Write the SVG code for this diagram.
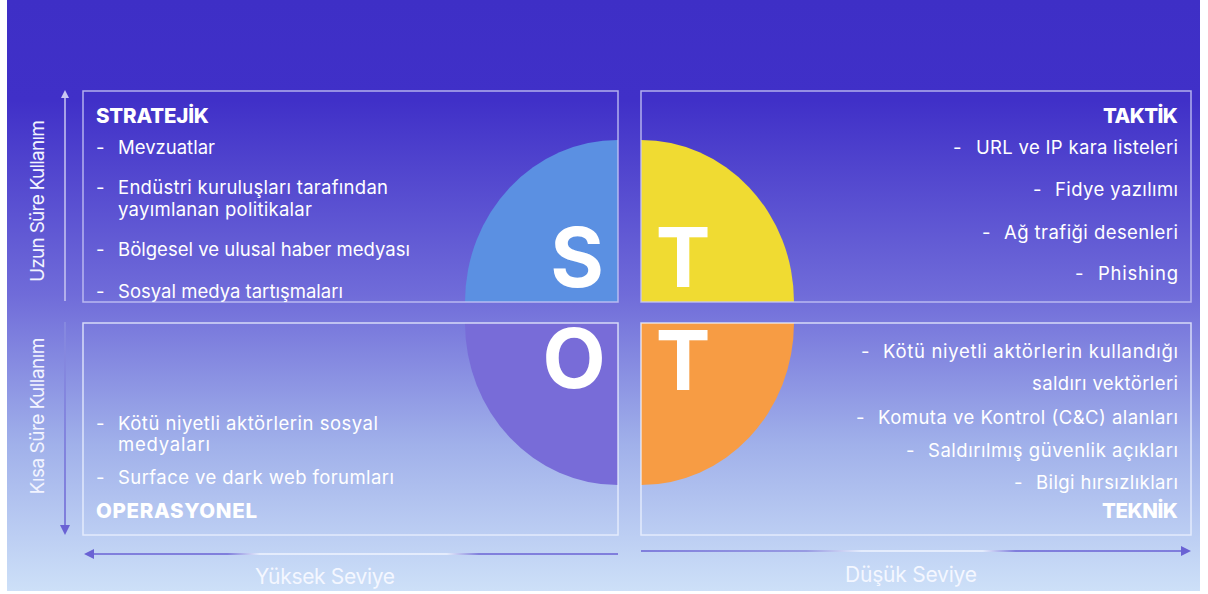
<svg xmlns="http://www.w3.org/2000/svg" width="1208" height="594" viewBox="0 0 1208 594">
<defs>
<linearGradient id="bg" x1="0" y1="0" x2="0" y2="1">
<stop offset="0" stop-color="#3E2FC6"/>
<stop offset="0.17" stop-color="#4030C8"/>
<stop offset="0.5" stop-color="#706CD9"/>
<stop offset="0.75" stop-color="#A0B0EA"/>
<stop offset="1" stop-color="#CDE0F8"/>
</linearGradient>
<linearGradient id="hl" x1="83" y1="0" x2="618" y2="0" gradientUnits="userSpaceOnUse">
<stop offset="0" stop-color="#6A62D4"/>
<stop offset="0.27" stop-color="#6A62D4"/>
<stop offset="0.33" stop-color="#F0F4FF"/>
<stop offset="0.68" stop-color="#F0F4FF"/>
<stop offset="0.74" stop-color="#6A62D4"/>
<stop offset="1" stop-color="#6A62D4"/>
</linearGradient>
<linearGradient id="hr" x1="641" y1="0" x2="1192" y2="0" gradientUnits="userSpaceOnUse">
<stop offset="0" stop-color="#6A62D4"/>
<stop offset="0.3" stop-color="#8A88DC"/>
<stop offset="0.4" stop-color="#F0F4FF"/>
<stop offset="0.62" stop-color="#F0F4FF"/>
<stop offset="0.68" stop-color="#6A62D4"/>
<stop offset="1" stop-color="#6A62D4"/>
</linearGradient>
<linearGradient id="vd" x1="0" y1="322" x2="0" y2="535" gradientUnits="userSpaceOnUse">
<stop offset="0" stop-color="#8A8EE0"/>
<stop offset="1" stop-color="#6A62D4"/>
</linearGradient>
<marker id="headUp" viewBox="0 0 10 10" refX="5" refY="5" markerWidth="8" markerHeight="8" orient="auto" markerUnits="userSpaceOnUse">
<path d="M0,0 L10,5 L0,10 z" fill="#C9C6F2"/>
</marker>
<marker id="headP" viewBox="0 0 10 10" refX="5" refY="5" markerWidth="10" markerHeight="10" orient="auto" markerUnits="userSpaceOnUse">
<path d="M0,0 L10,5 L0,10 z" fill="#6A62D4"/>
</marker>
</defs>
<style>
.box{fill:none;stroke:#C7C6F4;stroke-width:1.5;stroke-opacity:0.85}
.boxb{fill:none;stroke:#EEF2FF;stroke-width:1.5;stroke-opacity:0.8}
.t{font-family:Inter,"Noto Sans","Liberation Sans",sans-serif;font-size:18.5px;fill:#FFFFFF}
.tb{font-family:Inter,"Noto Sans","Liberation Sans",sans-serif;font-size:20.5px;font-weight:800;fill:#FFFFFF}
.big{font-family:Inter,"Noto Sans","Liberation Sans",sans-serif;font-size:82px;font-weight:700;fill:#FFFFFF;text-anchor:middle}
.ax{font-family:Inter,"Noto Sans","Liberation Sans",sans-serif;font-size:19px;fill:#F2F4FF;text-anchor:middle}
.axb{font-family:Inter,"Noto Sans","Liberation Sans",sans-serif;font-size:21px;fill:#F4F7FF;text-anchor:middle}
.r{text-anchor:end}
</style>
<rect x="0" y="0" width="1208" height="594" fill="#FFFFFF"/>
<rect x="7" y="0" width="1193" height="591" fill="url(#bg)"/>

<g id="quadrants-shapes">
<path d="M618,302 L465,302 A153,162 0 0 1 618,140 Z" fill="#5B90E2"/>
<path d="M641,302 L641,140 A153,162 0 0 1 794,302 Z" fill="#F0DB32"/>
<path d="M618,323 L618,485 A153,162 0 0 1 465,323 Z" fill="#786CD8"/>
<path d="M641,323 L794,323 A153,162 0 0 1 641,485 Z" fill="#F79C44"/>
</g>

<g id="node-stratejik">
<rect class="box" x="83" y="91" width="535" height="211"/>
<text class="big" x="577" y="287">S</text>
<text class="tb" x="96" y="123" textLength="113">STRATEJİK</text>
<text class="t" x="96" y="154">-</text><text class="t" x="118" y="154" textLength="97">Mevzuatlar</text>
<text class="t" x="96" y="194">-</text><text class="t" x="118" y="194" textLength="270">Endüstri kuruluşları tarafından</text>
<text class="t" x="118" y="216" textLength="194">yayımlanan politikalar</text>
<text class="t" x="96" y="256">-</text><text class="t" x="118" y="256" textLength="292">Bölgesel ve ulusal haber medyası</text>
<text class="t" x="96" y="298">-</text><text class="t" x="118" y="298" textLength="225">Sosyal medya tartışmaları</text>
</g>

<g id="node-taktik">
<rect class="box" x="641" y="91" width="550" height="211"/>
<text class="big" x="683" y="287">T</text>
<text class="tb r" x="1178" y="123" textLength="75">TAKTİK</text>
<text class="t" x="953" y="154">-</text><text class="t r" x="1178" y="154" textLength="202">URL ve IP kara listeleri</text>
<text class="t" x="1033" y="196">-</text><text class="t r" x="1178" y="196" textLength="123">Fidye yazılımı</text>
<text class="t" x="982" y="239">-</text><text class="t r" x="1178" y="239" textLength="174">Ağ trafiği desenleri</text>
<text class="t" x="1075" y="280">-</text><text class="t r" x="1178" y="280" textLength="80">Phishing</text>
</g>

<g id="node-operasyonel">
<rect class="boxb" x="83" y="323" width="535" height="212"/>
<text class="big" x="574" y="388">O</text>
<text class="t" x="96" y="430">-</text><text class="t" x="118" y="430" textLength="260">Kötü niyetli aktörlerin sosyal</text>
<text class="t" x="118" y="451" textLength="92">medyaları</text>
<text class="t" x="96" y="484">-</text><text class="t" x="118" y="484" textLength="276">Surface ve dark web forumları</text>
<text class="tb" x="96" y="518" textLength="161">OPERASYONEL</text>
</g>

<g id="node-teknik">
<rect class="boxb" x="641" y="323" width="550" height="212"/>
<text class="big" x="683" y="390">T</text>
<text class="t" x="861" y="358">-</text><text class="t r" x="1178" y="358" textLength="295">Kötü niyetli aktörlerin kullandığı</text>
<text class="t r" x="1178" y="390" textLength="146">saldırı vektörleri</text>
<text class="t" x="856" y="424">-</text><text class="t r" x="1178" y="424" textLength="300">Komuta ve Kontrol (C&amp;C) alanları</text>
<text class="t" x="906" y="457">-</text><text class="t r" x="1178" y="457" textLength="250">Saldırılmış güvenlik açıkları</text>
<text class="t" x="1014" y="489">-</text><text class="t r" x="1178" y="489" textLength="142">Bilgi hırsızlıkları</text>
<text class="tb r" x="1178" y="518" textLength="76">TEKNİK</text>
</g>

<g id="connectors">
<line x1="65" y1="301" x2="65" y2="94" stroke="#C9C6F2" stroke-width="1.5" marker-end="url(#headUp)"/>
<line x1="65" y1="322" x2="65" y2="530" stroke="url(#vd)" stroke-width="1.5" marker-end="url(#headP)"/>
<line x1="618" y1="554" x2="89" y2="554" stroke="url(#hl)" stroke-width="1.5" marker-end="url(#headP)"/>
<line x1="641" y1="551" x2="1186" y2="551" stroke="url(#hr)" stroke-width="1.5" marker-end="url(#headP)"/>
</g>

<g id="axis-labels">
<text class="ax" transform="translate(44,201) rotate(-90)" textLength="162">Uzun Süre Kullanım</text>
<text class="ax" transform="translate(44,416) rotate(-90)" textLength="157">Kısa Süre Kullanım</text>
<text class="axb" x="325" y="584" textLength="140">Yüksek Seviye</text>
<text class="axb" x="911" y="582" textLength="132">Düşük Seviye</text>
</g>
</svg>
